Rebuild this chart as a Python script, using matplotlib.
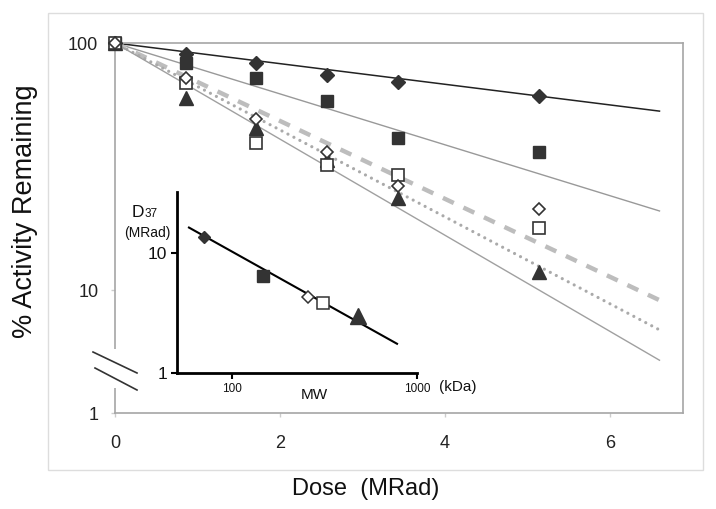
import matplotlib
matplotlib.use('Agg')
import matplotlib.pyplot as plt
from matplotlib.patches import Rectangle
from matplotlib.lines import Line2D
import matplotlib.ticker as mticker

plt.rcParams['font.family'] = ['Liberation Sans', 'DejaVu Sans']

# ---------------- data ----------------
dose = [0, 0.86, 1.71, 2.57, 3.43, 5.14]
act_fdiamond = [100, 90, 83, 74, 69.5, 61]
act_fsquare = [100, 83, 72, 58.3, 41.2, 36.2]
act_odiamond = [100, 72, 49.2, 36.2, 26.4, 21.3]
act_osquare = [100, 69, 39.3, 32.1, 29.2, 17.8]
act_triangle = [100, 60, 45.3, 33.6, 23.6, 11.8]

fit_dose = [0, 6.6]
fit_fdiamond = [100, 53]
fit_fsquare = [100, 20.9]
fit_odiamond = [100, 9.1]
fit_osquare = [100, 6.9]
fit_triangle = [100, 5.2]

mw = [70.6, 147, 258, 310, 480]
d37 = [13.6, 6.4, 4.27, 3.8, 2.96]
mw_fit = [58.6, 780]
d37_fit = [16.2, 1.75]

x_ticks = [0, 2, 4, 6]
x_tick_labels = ['0', '2', '4', '6']
y_axis_bottom = 3.18          # broken axis: bottom of the frame is labelled "1"
y_ticks = [y_axis_bottom, 10, 100]
y_tick_labels = ['1', '10', '100']

inset_x_ticks = [100, 1000]
inset_x_labels = ['100', '1000']
inset_y_ticks = [1, 10]
inset_y_labels = ['1', '10']

W, H = 716, 509
fig = plt.figure(figsize=(W / 100, H / 100), dpi=100)

def fx(px):
    return px / W

def fy(py):
    return 1 - py / H

# outer light frame
fig.patches.append(Rectangle((fx(48), fy(470)), fx(703) - fx(48), fy(13) - fy(470),
                             transform=fig.transFigure, fill=False,
                             edgecolor='#dddddd', lw=1.0))

ax = fig.add_axes([fx(115), fy(413), fx(683) - fx(115), fy(43) - fy(413)])
ax.set_yscale('log')
ax.set_xlim(0, 6.885)
ax.set_ylim(y_axis_bottom, 100)

dark = '#333333'

# fit lines
ax.plot(fit_dose, fit_fdiamond, color='#222222', lw=1.1, zorder=2)
ax.plot(fit_dose, fit_fsquare, color='#999999', lw=1.0, zorder=2)
ax.plot(fit_dose, fit_odiamond, color='#bdbdbd', lw=3.2, dashes=[2.7, 2.4],
        solid_capstyle='butt', zorder=2)
ax.plot(fit_dose, fit_osquare, color='#aaaaaa', lw=2.3, dashes=[0.01, 2.1],
        dash_capstyle='round', zorder=2)
ax.plot(fit_dose, fit_triangle, color='#a0a0a0', lw=1.0, zorder=2)

# markers
ax.plot(dose, act_triangle, ls='none', marker='^', ms=10, color=dark, zorder=3,
        clip_on=False)
ax.plot(dose, act_fsquare, ls='none', marker='s', ms=8.6, color=dark, zorder=4,
        clip_on=False)
ax.plot(dose, act_fdiamond, ls='none', marker='D', ms=7.2, color=dark, zorder=5,
        clip_on=False)
ax.plot(dose, act_osquare, ls='none', marker='s', ms=8.4, mfc='white', mec=dark,
        mew=1.2, zorder=6, clip_on=False)
ax.plot(dose, act_odiamond, ls='none', marker='D', ms=6.4, mfc='white', mec=dark,
        mew=1.2, zorder=7, clip_on=False)

for s in ax.spines.values():
    s.set_color('#a6a6a6')
    s.set_linewidth(1.2)

ax.xaxis.set_major_locator(mticker.FixedLocator(x_ticks))
ax.set_xticklabels(x_tick_labels)
ax.yaxis.set_major_locator(mticker.FixedLocator(y_ticks))
ax.yaxis.set_minor_locator(mticker.NullLocator())
ax.set_yticklabels(y_tick_labels)
ax.tick_params(axis='both', length=3, width=1, color='#cccccc', labelcolor='#222222',
               labelsize=13)
ax.tick_params(axis='x', pad=13)
ax.tick_params(axis='y', pad=9)

# axis break
ax.add_patch(Rectangle((-0.012, 0.068), 0.024, 0.104, transform=ax.transAxes,
                       facecolor='white', edgecolor='none', clip_on=False, zorder=8))
for (x0, y0, x1, y1) in [(93, 352, 137, 373), (95, 368, 137, 390)]:
    ax.add_line(Line2D([(x0 - 115) / 568, (x1 - 115) / 568],
                       [(413 - y0) / 370, (413 - y1) / 370],
                       transform=ax.transAxes, color='#333333', lw=1.2,
                       clip_on=False, zorder=9))

# axis labels
fig.text(fx(25), fy(211), '% Activity Remaining', rotation=90, ha='center',
         va='center', fontsize=19.5, color='#111111')
fig.text(fx(366), fy(495), 'Dose  (MRad)', ha='center', va='baseline',
         fontsize=17, color='#111111')

# ---------------- inset ----------------
iax = fig.add_axes([fx(177), fy(373), fx(417) - fx(177), fy(192) - fy(373)])
iax.set_facecolor('none')
iax.set_xscale('log')
iax.set_yscale('log')
iax.set_xlim(50.5, 1000)
iax.set_ylim(1, 32)
iax.plot(mw_fit, d37_fit, color='black', lw=1.5, zorder=2)
iax.plot(mw[0], d37[0], marker='D', ms=6.4, color=dark, ls='none', zorder=3)
iax.plot(mw[1], d37[1], marker='s', ms=8.8, color=dark, ls='none', zorder=3)
iax.plot(mw[2], d37[2], marker='D', ms=6.2, mfc='white', mec=dark, mew=1.1,
         ls='none', zorder=3)
iax.plot(mw[3], d37[3], marker='s', ms=8.6, mfc='white', mec=dark, mew=1.1,
         ls='none', zorder=3)
iax.plot(mw[4], d37[4], marker='^', ms=11, color=dark, ls='none', zorder=3)

for side in ('top', 'right'):
    iax.spines[side].set_visible(False)
for side in ('left', 'bottom'):
    iax.spines[side].set_color('black')
    iax.spines[side].set_linewidth(2)

iax.xaxis.set_major_locator(mticker.FixedLocator(inset_x_ticks))
iax.xaxis.set_minor_locator(mticker.NullLocator())
iax.set_xticklabels(inset_x_labels)
iax.yaxis.set_major_locator(mticker.FixedLocator(inset_y_ticks))
iax.yaxis.set_minor_locator(mticker.NullLocator())
iax.set_yticklabels(inset_y_labels)
iax.tick_params(axis='both', length=4, width=1.5, color='black', labelcolor='#111111')
iax.tick_params(axis='x', labelsize=8.5, pad=3)
iax.tick_params(axis='y', labelsize=12.5, pad=3)

fig.text(fx(132), fy(217), 'D', ha='left', va='baseline', fontsize=12.5, color='#111111')
fig.text(fx(145), fy(217), '37', ha='left', va='baseline', fontsize=8.5, color='#111111')
fig.text(fx(147.5), fy(233), '(MRad)', ha='center', va='center', fontsize=10,
         color='#111111')
fig.text(fx(314), fy(395), 'MW', ha='center', va='center', fontsize=11, color='#111111')
fig.text(fx(439), fy(387), '(kDa)', ha='left', va='center', fontsize=11, color='#111111')

fig.savefig('out.png', dpi=100)
